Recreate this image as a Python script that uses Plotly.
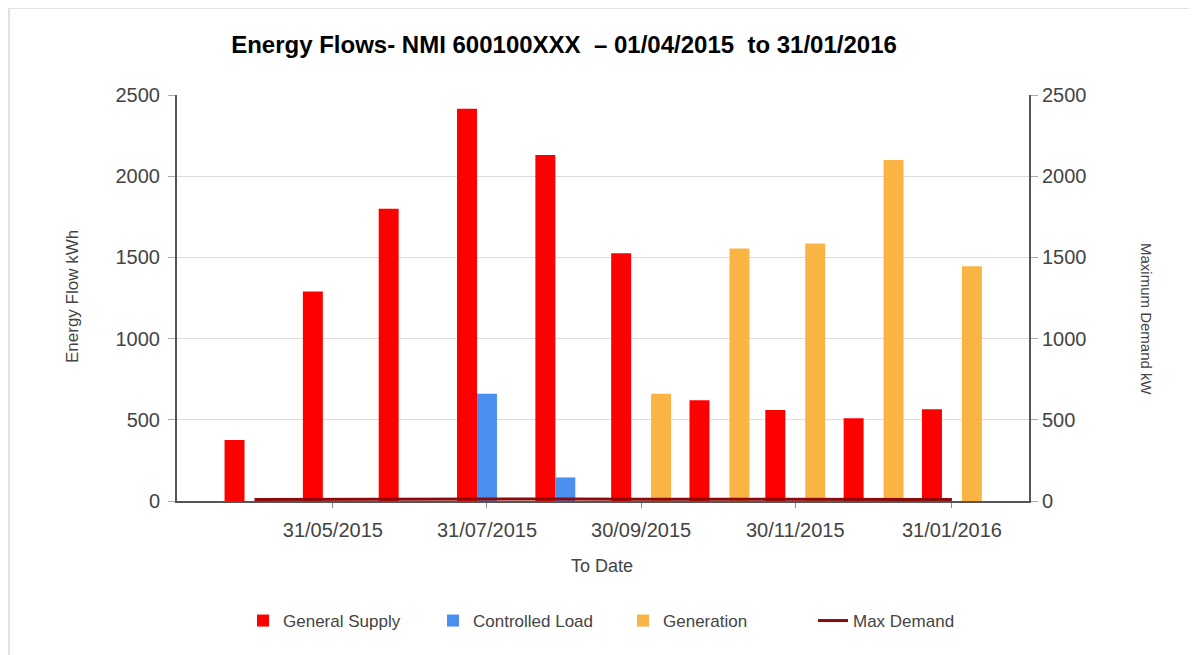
import plotly.graph_objects as go

# Month-end "To Date" values
dates = ["2015-04-30", "2015-05-31", "2015-06-30", "2015-07-31", "2015-08-31",
         "2015-09-30", "2015-10-31", "2015-11-30", "2015-12-31", "2016-01-31"]
general_supply = [375, 1290, 1800, 2415, 2130, 1525, 620, 560, 510, 565]
controlled_load = [0, 0, 0, 660, 145, 0, 0, 0, 0, 0]
generation = [0, 0, 0, 0, 0, 660, 1555, 1585, 2100, 1445]
max_demand = [10, 11, 12, 14, 13, 11, 10, 9, 9, 9]

tick_dates = ["2015-05-31", "2015-07-31", "2015-09-30", "2015-11-30", "2016-01-31"]
y_ticks = [0, 500, 1000, 1500, 2000, 2500]

title_text = "Energy Flows- NMI 600100XXX  \u2013 01/04/2015  to 31/01/2016"

FONT = "Liberation Sans, Arial, sans-serif"

fig = go.Figure()
fig.add_trace(go.Bar(x=dates, y=general_supply, name="General Supply",
                     marker=dict(color="#FF0000", line=dict(width=0))))
fig.add_trace(go.Bar(x=dates, y=controlled_load, name="Controlled Load",
                     marker=dict(color="#4A8EEF", line=dict(width=0))))
fig.add_trace(go.Bar(x=dates, y=generation, name="Generation",
                     marker=dict(color="#F9B443", line=dict(width=0))))
fig.add_trace(go.Scatter(x=dates, y=max_demand, name="Max Demand", yaxis="y2",
                         mode="lines", line=dict(color="#8B0A0A", width=3)))

OFF = 8  # page body margin
W, H = 1197 - OFF, 655 - OFF
L, T = 177 - OFF, 95 - OFF
R = W - (1029 - OFF)
B = H - (501 - OFF)
pw, ph = W - L - R, H - T - B


def px_x(x):
    return (x - OFF - L) / pw


def px_y(y):
    return (H - B - (y - OFF)) / ph


fig.update_layout(
    width=W, height=H,
    margin=dict(l=L, r=R, t=T, b=B, autoexpand=False),
    paper_bgcolor="white", plot_bgcolor="white",
    barmode="group", bargap=0.21, bargroupgap=0,
    font=dict(family=FONT, color="#444444"),
    title=dict(text=title_text, x=(564 - OFF) / W, xanchor="center", xref="container",
               y=1 - (45 - OFF) / H, yanchor="middle", yref="container",
               font=dict(family=FONT, size=24, color="#000000", weight="bold")),
    xaxis=dict(type="date", range=["2015-03-30 08:00", "2016-03-01 12:00"],
               tickvals=tick_dates, tickformat="%d/%m/%Y",
               tickfont=dict(size=20, color="#444444"), ticklabelstandoff=5,
               showgrid=False, showline=True, linecolor="#555555", linewidth=2,
               ticks="outside", ticklen=5, tickcolor="#888888", zeroline=False),
    yaxis=dict(range=[0, 2500], tickvals=y_ticks,
               tickfont=dict(size=20, color="#444444"), ticklabelstandoff=4,
               showgrid=True, gridcolor="#DDDDDD", gridwidth=1,
               showline=True, linecolor="#555555", linewidth=2,
               ticks="outside", ticklen=7, tickcolor="#AAAAAA", zeroline=False),
    yaxis2=dict(range=[0, 2500], tickvals=y_ticks, overlaying="y", side="right",
                tickfont=dict(size=20, color="#444444"),
                showgrid=False, showline=True, linecolor="#555555", linewidth=2,
                ticks="outside", ticklen=7, tickcolor="#AAAAAA", zeroline=False),
    legend=dict(orientation="h", x=px_x(623), xanchor="center",
                y=px_y(621), yanchor="middle", entrywidth=145,
                font=dict(size=17, color="#444444"), traceorder="normal"),
    showlegend=True,
)

fig.add_annotation(text="Energy Flow kWh", xref="paper", yref="paper",
                   x=px_x(72), y=px_y(297), xanchor="center", yanchor="middle",
                   textangle=-90, showarrow=False,
                   font=dict(size=17, color="#444444"))
fig.add_annotation(text="Maximum Demand kW", xref="paper", yref="paper",
                   x=px_x(1147), y=px_y(319), xanchor="center", yanchor="middle",
                   textangle=90, showarrow=False,
                   font=dict(size=15, color="#444444"))
fig.add_annotation(text="To Date", xref="paper", yref="paper",
                   x=px_x(602), y=px_y(566), xanchor="center", yanchor="middle",
                   showarrow=False, font=dict(size=18, color="#444444"))

# light frame of the original screenshot
fig.add_shape(type="line", xref="paper", yref="paper",
              x0=px_x(8), x1=px_x(1197), y0=px_y(8), y1=px_y(8),
              line=dict(color="#E2E2E2", width=2))
fig.add_shape(type="line", xref="paper", yref="paper",
              x0=px_x(9), x1=px_x(9), y0=px_y(8), y1=px_y(655),
              line=dict(color="#E2E2E2", width=2))

fig.write_html("out.html")
